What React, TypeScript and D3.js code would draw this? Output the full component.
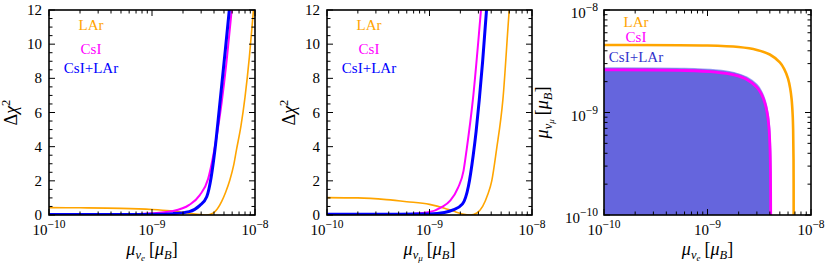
import * as d3 from "d3";

const W = 831;
const H = 268;

const chiTicks = [0, 2, 4, 6, 8, 10, 12];
const legendNames = ["LAr", "CsI", "CsI+LAr"];

// left panel: mu_nu_e vs delta chi^2
const larE = [
  [1e-10, 0.43], [2e-10, 0.42], [5e-10, 0.39], [1e-9, 0.32], [1.5e-9, 0.24], [2e-9, 0.15],
  [2.5e-9, 0.07], [3e-9, 0.02], [3.4e-9, 0.0], [3.9e-9, 0.1], [4.3e-9, 0.35], [4.75e-9, 0.8],
  [5.2e-9, 1.35], [5.7e-9, 2.05], [6.2e-9, 2.9], [6.6e-9, 3.8], [7.3e-9, 5.2], [8.0e-9, 6.9],
  [8.8e-9, 9.2], [9.6e-9, 11.8], [1e-8, 13],
];
const csiE = [
  [1e-10, 0.0], [3e-10, 0.01], [6e-10, 0.04], [1e-9, 0.1], [1.6e-9, 0.23], [2.3e-9, 0.59],
  [2.9e-9, 1.15], [3.5e-9, 2.1], [3.94e-9, 3.5], [4.35e-9, 5.0], [4.75e-9, 6.6], [5.3e-9, 9.0],
  [5.94e-9, 12], [6.3e-9, 13.6],
];
const combE = [
  [1e-10, 0.03], [5e-10, 0.03], [1e-9, 0.04], [1.6e-9, 0.08], [2.3e-9, 0.2], [2.9e-9, 0.55],
  [3.4e-9, 1.07], [3.75e-9, 2.2], [4.08e-9, 3.8], [4.5e-9, 6.2], [5.0e-9, 8.9], [5.63e-9, 12],
  [6e-9, 13.8],
];

// middle panel: mu_nu_mu vs delta chi^2
const larMu = [
  [1e-10, 1.02], [2e-10, 1.0], [3.8e-10, 0.9], [6e-10, 0.78], [1e-9, 0.62], [1.4e-9, 0.4],
  [1.7e-9, 0.23], [2.1e-9, 0.06], [2.5e-9, 0.0], [2.9e-9, 0.12], [3.3e-9, 0.5], [3.7e-9, 1.2],
  [4.05e-9, 2.0], [4.5e-9, 3.8], [5.2e-9, 6.75], [6.0e-9, 12], [6.3e-9, 13.5],
];
const csiMu = [
  [1e-10, 0.0], [3e-10, 0.01], [6e-10, 0.05], [1e-9, 0.17], [1.3e-9, 0.45], [1.6e-9, 0.85],
  [1.9e-9, 1.6], [2.15e-9, 2.6], [2.3e-9, 3.8], [2.65e-9, 6.75], [3.18e-9, 12], [3.4e-9, 14],
];
const combMu = [
  [1e-10, 0.05], [5e-10, 0.05], [1e-9, 0.06], [1.4e-9, 0.15], [1.7e-9, 0.3], [2.1e-9, 0.65],
  [2.4e-9, 1.7], [2.67e-9, 3.5], [2.85e-9, 4.9], [3.06e-9, 6.75], [3.3e-9, 9], [3.6e-9, 12],
  [3.8e-9, 13.6],
];

// right panel: allowed region in (mu_nu_e, mu_nu_mu)
const larContour = [
  [1e-10, 4.55e-9], [1e-9, 4.5e-9], [2e-9, 4.35e-9], [3e-9, 4.08e-9], [4e-9, 3.68e-9],
  [5e-9, 3.08e-9], [5.5e-9, 2.67e-9], [6e-9, 2.14e-9], [6.3e-9, 1.71e-9], [6.5e-9, 1.34e-9],
  [6.65e-9, 0.95e-9], [6.72e-9, 0.69e-9], [6.78e-9, 0.35e-9], [6.8e-9, 1e-10],
];
const csiContour = [
  [1e-10, 2.6e-9], [6e-10, 2.57e-9], [1.2e-9, 2.48e-9], [1.8e-9, 2.33e-9], [2.4e-9, 2.1e-9],
  [3e-9, 1.76e-9], [3.3e-9, 1.53e-9], [3.6e-9, 1.22e-9], [3.8e-9, 0.95e-9], [3.93e-9, 0.7e-9],
  [4.02e-9, 0.44e-9], [4.06e-9, 0.26e-9], [4.08e-9, 1e-10],
];
const combContour = [
  [1e-10, 2.72e-9], [6e-10, 2.69e-9], [1.2e-9, 2.6e-9], [1.8e-9, 2.45e-9], [2.4e-9, 2.21e-9],
  [3e-9, 1.87e-9], [3.3e-9, 1.63e-9], [3.6e-9, 1.32e-9], [3.85e-9, 0.97e-9], [3.98e-9, 0.7e-9],
  [4.07e-9, 0.42e-9], [4.1e-9, 0.27e-9], [4.12e-9, 1e-10],
];

const ORANGE = "#ffa500";
const MAGENTA = "#ff00ff";
const BLUE = "#0000ff";
const FILL = "#6565dd";
const FONT = "'Liberation Serif', 'DejaVu Serif', serif";

const top = 10;
const bottom = 215;

type Pt = number[];

function Pow10({ x, y, e, anchor }: { x: number; y: number; e: number; anchor: string }) {
  return (
    <text x={x} y={y} textAnchor={anchor} fontSize={15} fontFamily={FONT}>
      10<tspan fontSize={11.5} dy={-7}>{"\u2212" + Math.abs(e)}</tspan>
    </text>
  );
}

function MuLabel({ sub }: { sub: string }) {
  return (
    <>
      <tspan fontStyle="italic">μ</tspan>
      <tspan fontStyle="italic" fontSize={12.5} dy={3.5}>ν</tspan>
      <tspan fontStyle="italic" fontSize={9} dy={2.5}>{sub}</tspan>
      <tspan dy={-6} dx={4}>[</tspan>
      <tspan fontStyle="italic">μ</tspan>
      <tspan fontStyle="italic" fontSize={12.5} dy={3.5}>B</tspan>
      <tspan dy={-3.5}>]</tspan>
    </>
  );
}

function Frame({ x, y, yLog, id }: { x: any; y: any; yLog: boolean; id: string }) {
  const [x0, x1] = x.range();
  const xt: number[] = x.ticks();
  const yt: number[] = yLog ? y.ticks() : d3.range(0, 12.01, 0.5);
  const isMajX = (v: number) => Math.abs(Math.log10(v) - Math.round(Math.log10(v))) < 1e-6;
  const isMajY = (v: number) => (yLog ? isMajX(v) : Math.abs(v % 2) < 1e-6);
  return (
    <g>
      {xt.map((v, i) => {
        const L = isMajX(v) ? 6 : 3.5;
        const px = x(v);
        return (
          <g key={"x" + id + i} stroke="#000" strokeWidth={1}>
            <line x1={px} x2={px} y1={bottom} y2={bottom - L} />
            <line x1={px} x2={px} y1={top} y2={top + L} />
          </g>
        );
      })}
      {yt.map((v, i) => {
        const L = isMajY(v) ? 6 : 3.5;
        const py = y(v);
        return (
          <g key={"y" + id + i} stroke="#000" strokeWidth={1}>
            <line x1={x0} x2={x0 + L} y1={py} y2={py} />
            <line x1={x1} x2={x1 - L} y1={py} y2={py} />
          </g>
        );
      })}
      <rect x={x0} y={top} width={x1 - x0} height={bottom - top} fill="none" stroke="#000" strokeWidth={1.6} />
      {xt.filter(isMajX).map((v, i) => (
        <Pow10 key={"xl" + id + i} x={x(v)} y={235} e={Math.round(Math.log10(v))} anchor="middle" />
      ))}
      {yLog
        ? yt.filter(isMajX).map((v, i) => (
            <Pow10 key={"yl" + id + i} x={x0 - 6} y={y(v) + 8} e={Math.round(Math.log10(v))} anchor="end" />
          ))
        : chiTicks.map((v, i) => (
            <text key={"yl" + id + i} x={x0 - 7} y={y(v) + 5} textAnchor="end" fontSize={15} fontFamily={FONT}>
              {v}
            </text>
          ))}
    </g>
  );
}

function Legend({ cx, ys, colors }: { cx: number; ys: number[]; colors: string[] }) {
  return (
    <g fontFamily={FONT} fontSize={15} textAnchor="middle">
      {legendNames.map((n, i) => (
        <text key={n} x={cx} y={ys[i]} fill={colors[i]}>
          {n}
        </text>
      ))}
    </g>
  );
}

function ChiPanel({ left, right, lar, csi, comb, sub, id }: any) {
  const x = d3.scaleLog().domain([1e-10, 1e-8]).range([left, right]);
  const y = d3.scaleLinear().domain([0, 12]).range([bottom, top]);
  const line = d3
    .line<Pt>()
    .x((d) => x(d[0]))
    .y((d) => y(d[1]))
    .curve(d3.curveMonotoneX);
  const cx = (left + right) / 2;
  return (
    <g>
      <defs>
        <clipPath id={"clip" + id}>
          <rect x={left} y={top} width={right - left} height={bottom - top} />
        </clipPath>
      </defs>
      <g clipPath={`url(#clip${id})`} fill="none">
        <path d={line(lar) || ""} stroke={ORANGE} strokeWidth={1.6} />
        <path d={line(csi) || ""} stroke={MAGENTA} strokeWidth={2} />
        <path d={line(comb) || ""} stroke={BLUE} strokeWidth={3} />
      </g>
      <Legend cx={left + 42} ys={[30, 54, 73]} colors={[ORANGE, MAGENTA, BLUE]} />
      <Frame x={x} y={y} yLog={false} id={id} />
      <text x={cx} y={255} textAnchor="middle" fontSize={18} fontFamily={FONT}>
        <MuLabel sub={sub} />
      </text>
      <text transform={`translate(${left - 32},${(top + bottom) / 2}) rotate(-90)`} textAnchor="middle" fontSize={18} fontFamily={FONT}>
        Δ<tspan fontStyle="italic">χ</tspan>
        <tspan fontSize={12.5} dy={-7}>2</tspan>
      </text>
    </g>
  );
}

function ContourPanel({ left, right }: { left: number; right: number }) {
  const x = d3.scaleLog().domain([1e-10, 1e-8]).range([left, right]);
  const y = d3.scaleLog().domain([1e-10, 1e-8]).range([bottom, top]);
  const line = d3
    .line<Pt>()
    .x((d) => x(d[0]))
    .y((d) => y(d[1]))
    .curve(d3.curveCatmullRom.alpha(0.5));
  // close the CsI+LAr region down to the lower-left corner
  const regionPath = (line(combContour) || "") + `L${x(1e-10)},${y(1e-10)}Z`;
  return (
    <g>
      <defs>
        <clipPath id="clip3">
          <rect x={left} y={top} width={right - left} height={bottom - top} />
        </clipPath>
      </defs>
      <g clipPath="url(#clip3)">
        <path d={regionPath} fill={FILL} stroke="#7a7af0" strokeWidth={1.5} strokeOpacity={0.7} />
        <path d={line(csiContour) || ""} fill="none" stroke={MAGENTA} strokeWidth={2.8} />
        <path d={line(larContour) || ""} fill="none" stroke={ORANGE} strokeWidth={2.6} />
      </g>
      <Legend cx={left + 32} ys={[27, 42, 62]} colors={[ORANGE, MAGENTA, "#3333cc"]} />
      <Frame x={x} y={y} yLog={true} id="3" />
      <text x={(left + right) / 2} y={255} textAnchor="middle" fontSize={18} fontFamily={FONT}>
        <MuLabel sub="e" />
      </text>
      <text transform={`translate(${left - 56},${(top + bottom) / 2}) rotate(-90)`} textAnchor="middle" fontSize={18} fontFamily={FONT}>
        <MuLabel sub="μ" />
      </text>
    </g>
  );
}

export default function App() {
  return (
    <svg width={W} height={H} style={{ position: "absolute", left: 0, top: 0, background: "#fff" }}>
      <rect width={W} height={H} fill="#fff" />
      <ChiPanel left={49} right={255} lar={larE} csi={csiE} comb={combE} sub="e" id="1" />
      <ChiPanel left={327} right={532} lar={larMu} csi={csiMu} comb={combMu} sub="μ" id="2" />
      <ContourPanel left={604} right={811} />
    </svg>
  );
}
